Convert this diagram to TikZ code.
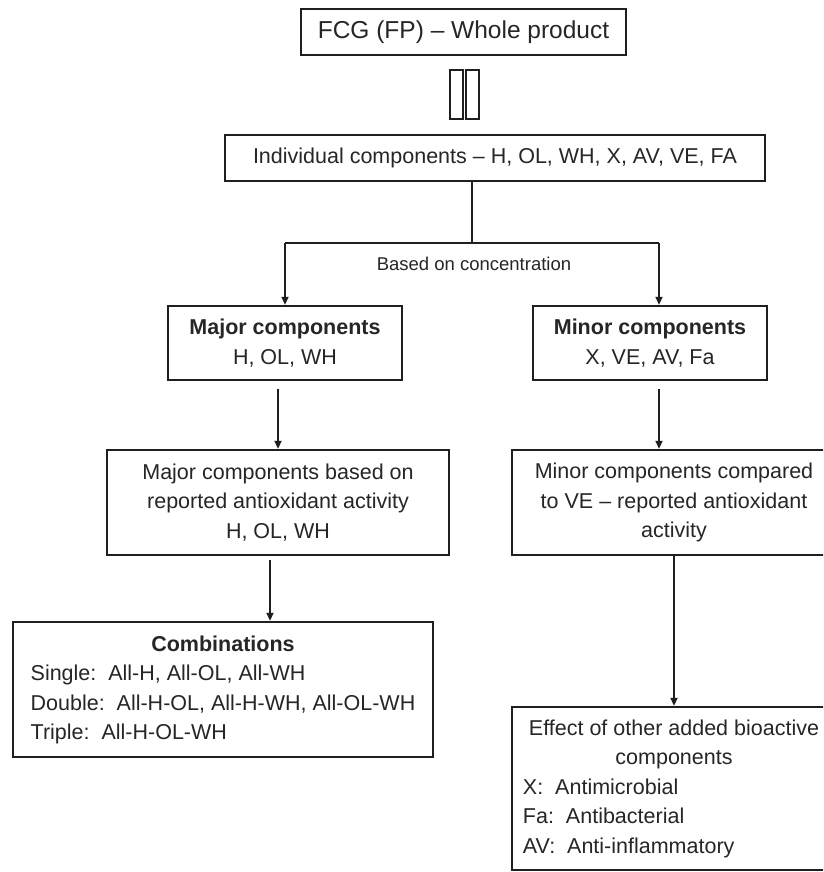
\documentclass[tikz,border=0pt]{standalone}
\usepackage{fontspec}
\setmainfont{Liberation Sans}
\usetikzlibrary{arrows.meta}
\begin{document}
\begin{tikzpicture}[x=1pt,y=-1pt,
  box/.style={draw=black!88, line width=2.4pt, inner sep=0pt, align=center, text=black!85,
              font=\fontsize{21.5}{29.5}\selectfont},
  bar/.style={draw=black!88, line width=1.3pt, inner sep=0pt, minimum width=13, minimum height=49},
  conn/.style={draw=black!88, line width=1.8pt},
  arr/.style={conn, -{Triangle[length=8pt,width=7pt]}},
  lbl/.style={text=black!85, inner sep=0pt, font=\fontsize{18.5}{22}\selectfont}
]
\clip (0,0) rectangle (823,872);
\fill[white] (0,0) rectangle (823,872);

\node[box, minimum width=325, minimum height=46, font=\fontsize{24.5}{30}\selectfont] (top) at (463.5,32) {FCG (FP) – Whole product};

\node[bar] (barL) at (456.5,94.5) {};
\node[bar] (barR) at (472.5,94.5) {};

\node[box, minimum width=540, minimum height=46] (ind) at (495,158) {Individual components – H, OL, WH, X, AV, VE, FA};

\node[box, minimum width=234, minimum height=74] (major) at (285,343) {\textbf{Major components}\\H, OL, WH};
\node[box, minimum width=234, minimum height=74] (minor) at (650,343) {\textbf{Minor components}\\X, VE, AV, Fa};

\node[box, minimum width=342, minimum height=105] (mb) at (278,502.5) {Major components based on\\reported antioxidant activity\\H, OL, WH};
\node[box, minimum width=324, minimum height=105] (mc) at (674,502.5) {Minor components compared\\to VE – reported antioxidant\\activity};

\node[box, minimum width=420, minimum height=135] (comb) at (223,689.5) {%
  \begin{tabular}{@{}l@{}}
  \multicolumn{1}{c}{\textbf{Combinations}}\\
  Single:\ \ All-H, All-OL, All-WH\\
  Double:\ \ All-H-OL, All-H-WH, All-OL-WH\\
  Triple:\ \ All-H-OL-WH
  \end{tabular}};

\node[box, minimum width=324, minimum height=163] (eff) at (674,788.5) {%
  \begin{tabular}{@{}l@{}}
  \multicolumn{1}{c}{Effect of other added bioactive}\\
  \multicolumn{1}{c}{components}\\
  X:\ \ Antimicrobial\\
  Fa:\ \ Antibacterial\\
  AV:\ \ Anti-inflammatory
  \end{tabular}};

\node[lbl] (conc) at (474,264) {Based on concentration};

\coordinate (split) at (472,243);
\coordinate (jl) at (285,243);
\coordinate (jr) at (659,243);
\coordinate (mbx) at (278,0);
\coordinate (combx) at (270,0);
\coordinate (effx) at (674,0);

\draw[conn] (ind.south -| split) -- (split);
\draw[conn] (jl) -- (jr);
\draw[arr] (jl) -- (jl |- major.north);
\draw[arr] (jr) -- (jr |- minor.north);
\draw[arr, shorten <=8pt] (major.south -| mbx) -- (mb.north -| mbx);
\draw[arr, shorten <=8pt] (minor.south -| jr) -- (mc.north -| jr);
\draw[arr, shorten <=4pt] (mb.south -| combx) -- (comb.north -| combx);
\draw[arr] (mc.south -| effx) -- (eff.north -| effx);
\end{tikzpicture}
\end{document}
